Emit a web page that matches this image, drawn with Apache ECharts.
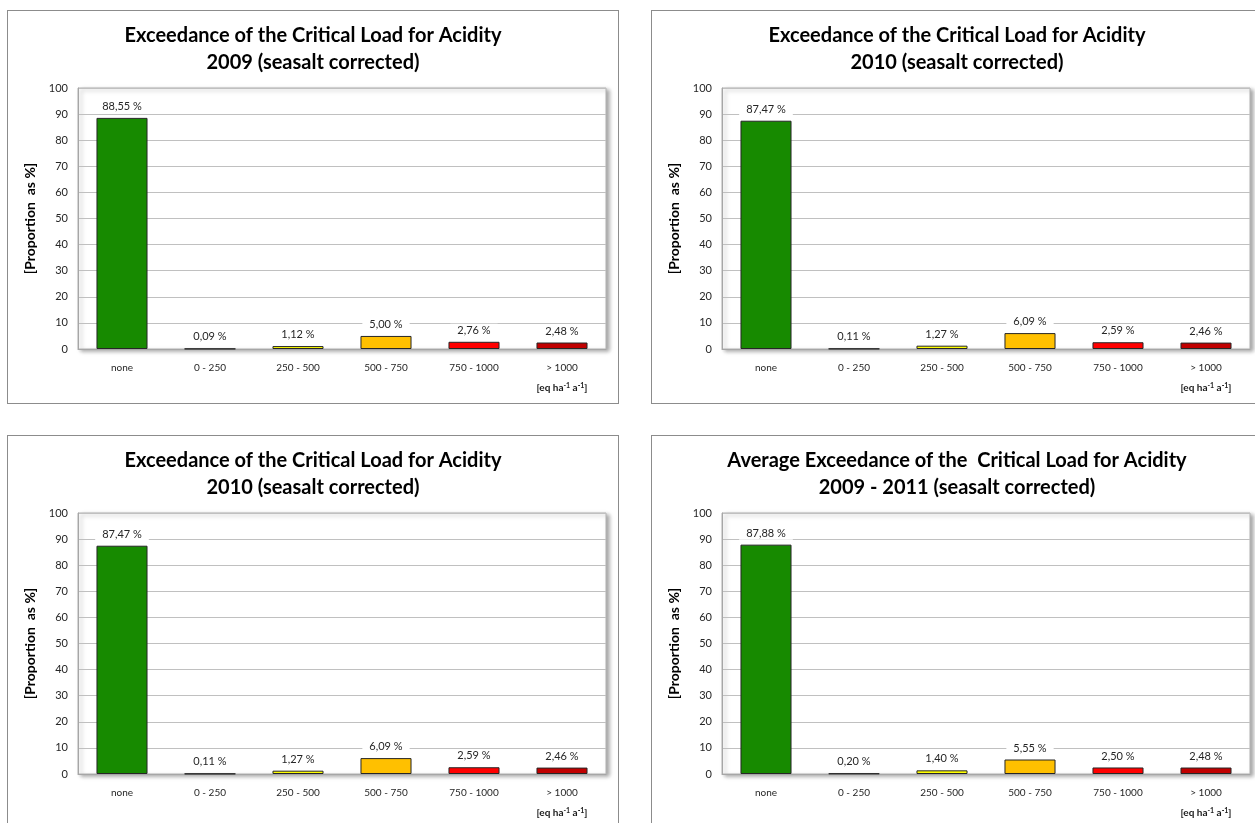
<!DOCTYPE html>
<html lang="en">
<head>
    <meta charset="UTF-8">
    <title>Exceedance of the Critical Load for Acidity</title>
    <style>
        html, body {
            margin: 0;
            width: 100%;
            height: 100%;
            background: #ffffff;
            overflow: hidden;
        }
        .panel {
            position: absolute;
            width: 610px;
            height: 392px;
            border: 1px solid #8c8c8c;
            background: #fff;
        }
    </style>
</head>
<body>
<div class="panel" id="c1" style="left:7px;top:10px;"></div>
<div class="panel" id="c2" style="left:651px;top:10px;"></div>
<div class="panel" id="c3" style="left:7px;top:435px;"></div>
<div class="panel" id="c4" style="left:651px;top:435px;"></div>
<script src="https://cdn.jsdelivr.net/npm/echarts@6/dist/echarts.min.js"></script>
<script>
    // exceedance classes [eq ha-1 a-1]
    var categories = ['none', '0 - 250', '250 - 500', '500 - 750', '750 - 1000', '> 1000'];
    // proportion of area in %
    var values2009 = [88.55, 0.09, 1.12, 5.00, 2.76, 2.48];
    var values2010 = [87.47, 0.11, 1.27, 6.09, 2.59, 2.46];
    var valuesAvg = [87.88, 0.20, 1.40, 5.55, 2.50, 2.48];
    var titles = [
        'Exceedance of the Critical Load for Acidity\n2009 (seasalt corrected)',
        'Exceedance of the Critical Load for Acidity\n2010 (seasalt corrected)',
        'Exceedance of the Critical Load for Acidity\n2010 (seasalt corrected)',
        'Average Exceedance of the  Critical Load for Acidity\n2009 - 2011 (seasalt corrected)'
    ];
    var panelData = [values2009, values2010, values2010, valuesAvg];
    var barColors = ['#178a00', '#404040', '#ffff00', '#ffc000', '#ff0000', '#c00000'];

    var FONT = 'Lato, "Open Sans", sans-serif';

    function fmt(v) {
        return v.toFixed(2).replace('.', ',') + ' %';
    }

    function makeOption(title, values) {
        return {
            animation: false,
            title: {
                text: title,
                left: 'center',
                top: 6,
                textStyle: {
                    fontFamily: FONT,
                    fontSize: 20,
                    fontWeight: 'bold',
                    color: '#000',
                    lineHeight: 27
                }
            },
            grid: {
                left: 70,
                right: 12,
                top: 77,
                height: 261,
                show: true,
                backgroundColor: '#fff',
                borderColor: '#b3b3b3',
                borderWidth: 1,
                shadowColor: 'rgba(0,0,0,0.35)',
                shadowBlur: 4,
                shadowOffsetX: 3,
                shadowOffsetY: 2
            },
            xAxis: {
                type: 'category',
                data: categories,
                axisTick: {show: false},
                axisLine: {lineStyle: {color: '#a6a6a6'}},
                axisLabel: {
                    interval: 0,
                    margin: 9,
                    fontFamily: FONT,
                    fontSize: 10,
                    color: '#262626',
                    lineHeight: 20,
                    formatter: function (value, idx) {
                        if (idx === categories.length - 1) {
                            return value + '\n{u|[eq ha}{s|-1}{u| a}{s|-1}{u|]}';
                        }
                        return value;
                    },
                    rich: {
                        u: {fontFamily: FONT, fontSize: 10, fontWeight: 'bold', color: '#1a1a1a'},
                        s: {fontFamily: FONT, fontSize: 7, fontWeight: 'bold', color: '#1a1a1a', padding: [0, 0, 5, 0]}
                    }
                }
            },
            yAxis: {
                type: 'value',
                min: 0,
                max: 100,
                interval: 10,
                name: '[Proportion  as %]',
                nameLocation: 'middle',
                nameGap: 40,
                nameTextStyle: {
                    fontFamily: FONT,
                    fontSize: 14,
                    fontWeight: 'bold',
                    color: '#000'
                },
                axisLine: {show: true, lineStyle: {color: '#a6a6a6'}},
                axisTick: {show: false},
                axisLabel: {
                    margin: 10,
                    fontFamily: FONT,
                    fontSize: 11,
                    color: '#262626'
                },
                splitLine: {lineStyle: {color: '#c0c0c0'}}
            },
            series: [{
                type: 'bar',
                barWidth: '58%',
                data: values.map(function (v, i) {
                    return {value: v, itemStyle: {color: barColors[i]}};
                }),
                itemStyle: {borderColor: '#262626', borderWidth: 1},
                label: {
                    show: true,
                    position: 'top',
                    distance: 5,
                    fontFamily: FONT,
                    fontSize: 11,
                    color: '#262626',
                    backgroundColor: '#fff',
                    padding: [1, 7],
                    formatter: function (p) {
                        return fmt(p.value);
                    }
                }
            }]
        };
    }

    ['c1', 'c2', 'c3', 'c4'].forEach(function (id, i) {
        var chart = echarts.init(document.getElementById(id));
        chart.setOption(makeOption(titles[i], panelData[i]));
    });
</script>
</body>
</html>
